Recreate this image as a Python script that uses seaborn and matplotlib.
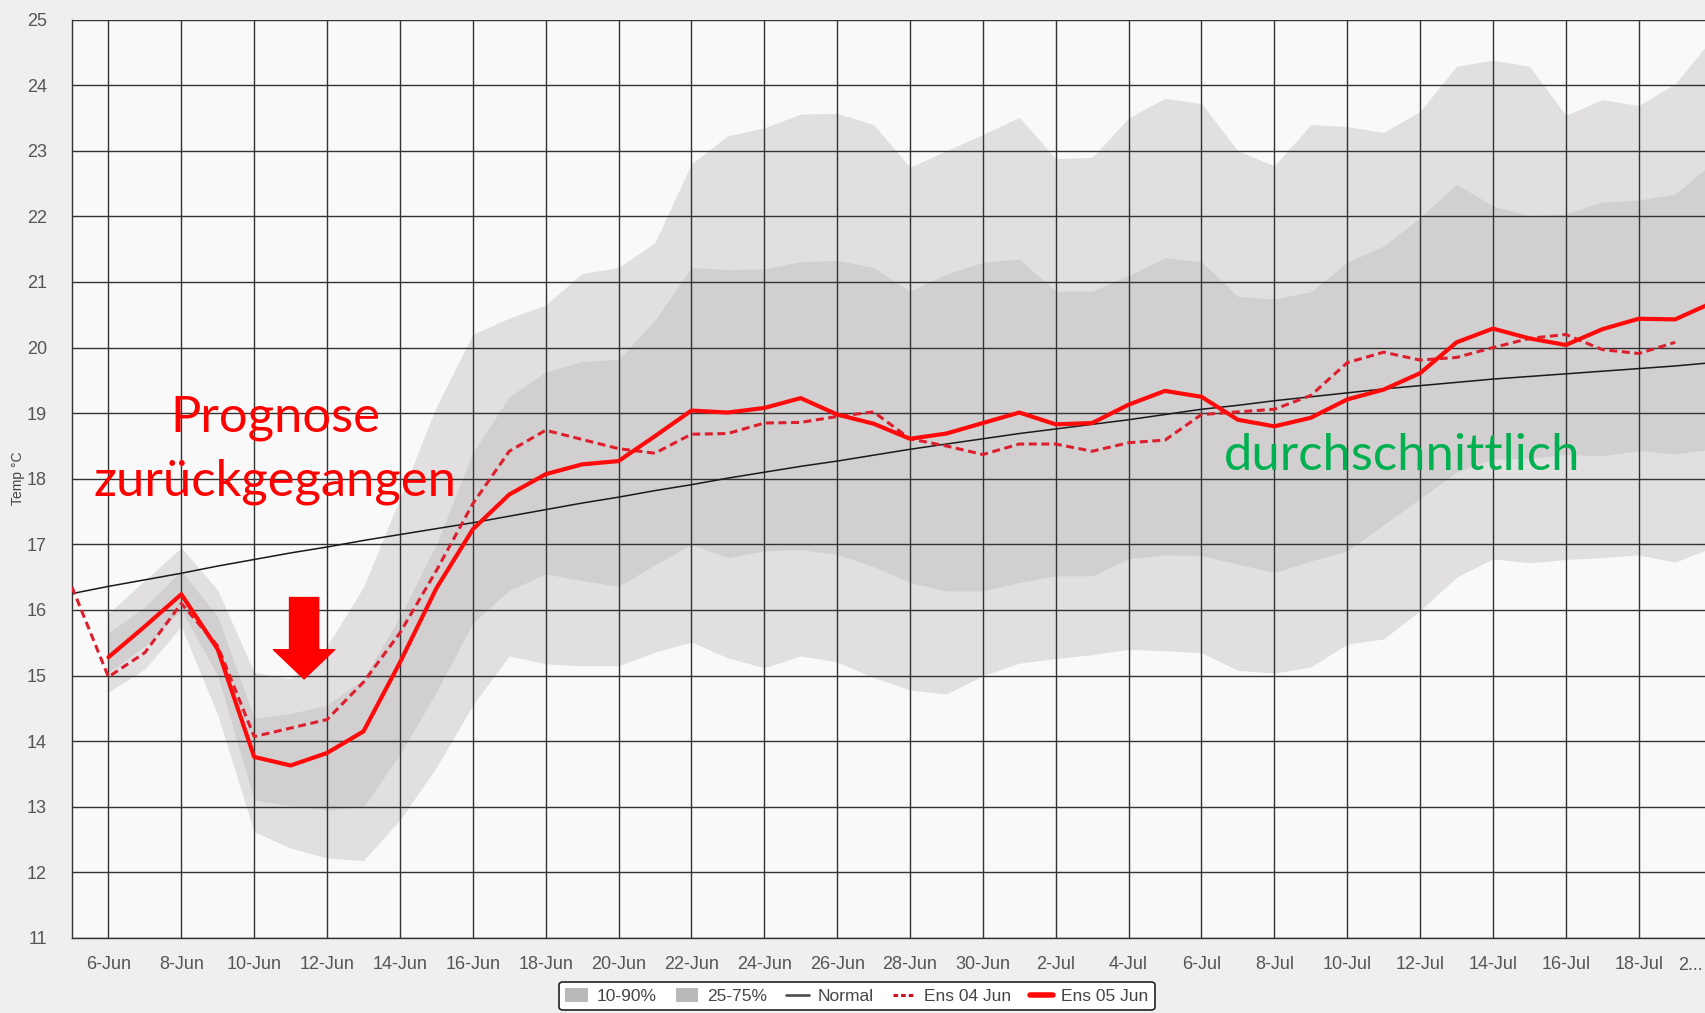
import pandas as pd
import matplotlib.pyplot as plt
from matplotlib.patches import Patch
from matplotlib.lines import Line2D
import seaborn as sns

# Daily values (5 Jun .. 20 Jul)
dates = pd.date_range('2023-06-05', '2023-07-20', freq='D')

normal = [16.25, 16.36, 16.46, 16.56, 16.67, 16.77, 16.87, 16.96, 17.06, 17.15,
          17.24, 17.33, 17.43, 17.53, 17.63, 17.72, 17.82, 17.91, 18.01, 18.10,
          18.19, 18.27, 18.36, 18.45, 18.53, 18.61, 18.69, 18.76, 18.83, 18.90,
          18.98, 19.06, 19.12, 19.19, 19.25, 19.31, 19.37, 19.42, 19.47, 19.52,
          19.56, 19.60, 19.64, 19.68, 19.72, 19.77]

# Ens 04 Jun: 5 Jun .. 19 Jul
ens_04 = [16.35, 14.98, 15.35, 16.10, 15.45, 14.07, 14.20, 14.33, 14.90, 15.65,
          16.60, 17.62, 18.42, 18.74, 18.60, 18.46, 18.39, 18.68, 18.69, 18.85,
          18.86, 18.95, 19.02, 18.61, 18.50, 18.37, 18.53, 18.53, 18.42, 18.55,
          18.59, 18.98, 19.02, 19.06, 19.27, 19.77, 19.93, 19.81, 19.85, 20.00,
          20.14, 20.20, 19.97, 19.91, 20.08]

# Ens 05 Jun and the ensemble bands: 6 Jun .. 20 Jul
ens_05 = [15.28, 15.75, 16.24, 15.40, 13.76, 13.63, 13.82, 14.15, 15.20, 16.33,
          17.23, 17.76, 18.07, 18.22, 18.27, 18.65, 19.04, 19.01, 19.08, 19.23,
          18.98, 18.84, 18.61, 18.69, 18.85, 19.01, 18.83, 18.85, 19.13, 19.34,
          19.25, 18.90, 18.80, 18.93, 19.21, 19.36, 19.61, 20.08, 20.29, 20.14,
          20.04, 20.28, 20.44, 20.43, 20.68]

p10 = [14.75, 15.10, 15.75, 14.40, 12.62, 12.37, 12.22, 12.18, 12.80, 13.60,
       14.55, 15.30, 15.18, 15.15, 15.15, 15.36, 15.51, 15.27, 15.12, 15.30,
       15.21, 14.97, 14.78, 14.72, 15.00, 15.19, 15.26, 15.32, 15.40, 15.38,
       15.35, 15.08, 15.04, 15.13, 15.48, 15.56, 15.99, 16.50, 16.78, 16.72,
       16.77, 16.80, 16.84, 16.73, 16.95]

p25 = [15.05, 15.45, 16.00, 15.00, 13.10, 13.02, 12.95, 13.00, 13.80, 14.75,
       15.80, 16.30, 16.55, 16.45, 16.36, 16.69, 17.00, 16.80, 16.90, 16.92,
       16.85, 16.66, 16.42, 16.29, 16.29, 16.42, 16.52, 16.52, 16.78, 16.84,
       16.83, 16.70, 16.57, 16.75, 16.90, 17.30, 17.70, 18.10, 18.30, 18.31,
       18.37, 18.35, 18.43, 18.38, 18.45]

p75 = [15.65, 16.05, 16.60, 15.90, 14.35, 14.42, 14.55, 14.95, 15.90, 17.00,
       18.40, 19.25, 19.63, 19.79, 19.82, 20.42, 21.22, 21.19, 21.20, 21.31,
       21.33, 21.22, 20.86, 21.12, 21.30, 21.35, 20.86, 20.86, 21.10, 21.37,
       21.31, 20.78, 20.74, 20.85, 21.30, 21.55, 21.98, 22.49, 22.16, 22.01,
       22.04, 22.22, 22.25, 22.34, 22.80]

p90 = [15.95, 16.45, 16.95, 16.30, 15.05, 14.95, 15.45, 16.35, 17.70, 19.10,
       20.20, 20.45, 20.65, 21.13, 21.22, 21.60, 22.80, 23.23, 23.35, 23.56,
       23.57, 23.40, 22.75, 23.00, 23.25, 23.51, 22.88, 22.90, 23.50, 23.80,
       23.72, 23.00, 22.77, 23.40, 23.37, 23.28, 23.60, 24.29, 24.38, 24.29,
       23.54, 23.78, 23.69, 24.02, 24.70]

sns.set_style('white')
plt.rcParams['font.family'] = ['Liberation Sans', 'DejaVu Sans']

fig = plt.figure(figsize=(17.05, 10.13), dpi=100)
fig.patch.set_facecolor('#efefef')
ax = fig.add_axes([72 / 1705, 75 / 1013, 1 - 72 / 1705, (938 - 19.6) / 1013])
ax.set_facecolor('#f9f9f9')

# ensemble spread
band_dates = dates[1:]
ax.fill_between(band_dates, p10, p90, color='#e1dfe0', linewidth=0, zorder=1)
ax.fill_between(band_dates, p25, p75, color='#d2cfd0', linewidth=0, zorder=1.1)

# lines
sns.lineplot(x=dates, y=normal, ax=ax, color='#1a1a1a', linewidth=1.1, zorder=3)
sns.lineplot(x=dates[:-1], y=ens_04, ax=ax, color='#dd1f2d', linewidth=2.2,
             linestyle=(0, (2.6, 1.5)), zorder=3)
sns.lineplot(x=dates[1:], y=ens_05, ax=ax, color='#ff0a0a', linewidth=3.0, zorder=4)

# axes, grid, ticks
ax.set_ylim(11, 25)
ax.set_xlim(dates[0], dates[0] + pd.Timedelta(days=44.82))
ax.set_yticks(range(11, 26))
tick_dates = dates[1::2][:-1]
ax.set_xticks(tick_dates)
ax.set_xticklabels([f"{d.day}-{d.strftime('%b')}" for d in tick_dates])
ax.set_axisbelow(False)
ax.grid(True, color='#333333', linewidth=1.0)
ax.tick_params(axis='x', length=6, width=1, color='#333333', labelsize=13,
               labelcolor='#555555', pad=7)
ax.tick_params(axis='y', length=0, labelsize=13, labelcolor='#555555', pad=18)
ax.set_xlabel('')
ax.set_ylabel('')
for side in ['top', 'right']:
    ax.spines[side].set_visible(False)
for side in ['left', 'bottom']:
    ax.spines[side].set_color('#333333')
    ax.spines[side].set_linewidth(1.0)

fig.text(1703 / 1705, 1 - 965 / 1013, '2...', ha='right', va='center',
         fontsize=13, color='#555555')
fig.text(18 / 1705, 1 - 478 / 1013, 'Temp °C', rotation=90, ha='center',
         va='center', fontsize=10, color='#444444')

# annotations
note_font = ['Lato', 'DejaVu Sans']
x_note = dates[0] + pd.Timedelta(days=5.58)
ax.text(x_note, 18.72, 'Prognose', color='#ff0000', fontsize=36.5,
        family=note_font, ha='center', va='baseline', zorder=5)
ax.text(x_note, 17.75, 'zurückgegangen', color='#ff0000', fontsize=36.5,
        family=note_font, ha='center', va='baseline', zorder=5)
ax.text(dates[0] + pd.Timedelta(days=36.5), 18.13, 'durchschnittlich',
        color='#00b050', fontsize=36.5, family=note_font, ha='center',
        va='baseline', zorder=5)

x_arrow = dates[0] + pd.Timedelta(days=6.37)
ax.annotate('', xy=(x_arrow, 14.95), xytext=(x_arrow, 16.19),
            arrowprops=dict(arrowstyle='simple,head_length=1.05,head_width=2.2,tail_width=1.05',
                            mutation_scale=20, color='#ff0000', shrinkA=0, shrinkB=0),
            zorder=5)

# legend
handles = [
    Patch(facecolor='#b9b9b9', edgecolor='none', label='10-90%'),
    Patch(facecolor='#b9b9b9', edgecolor='none', label='25-75%'),
    Line2D([0], [0], color='#555555', linewidth=2, label='Normal'),
    Line2D([0], [0], color='#cc1122', linewidth=2.2, linestyle=(0, (1.5, 1)), label='Ens 04 Jun'),
    Line2D([0], [0], color='#ff0a0a', linewidth=4, label='Ens 05 Jun'),
]
leg = fig.legend(handles=handles, loc='center', bbox_to_anchor=(857 / 1705, 1 - 996 / 1013),
                 ncol=5, fontsize=12.5, frameon=True, fancybox=True, edgecolor='#222222',
                 facecolor='white', framealpha=1, handlelength=1.3, handleheight=0.9,
                 handletextpad=0.5, columnspacing=1.1, borderpad=0.35)
for t in leg.get_texts():
    t.set_color('#444444')
leg.get_frame().set_linewidth(1.2)

fig.savefig('out.png', dpi=100, facecolor=fig.get_facecolor())
